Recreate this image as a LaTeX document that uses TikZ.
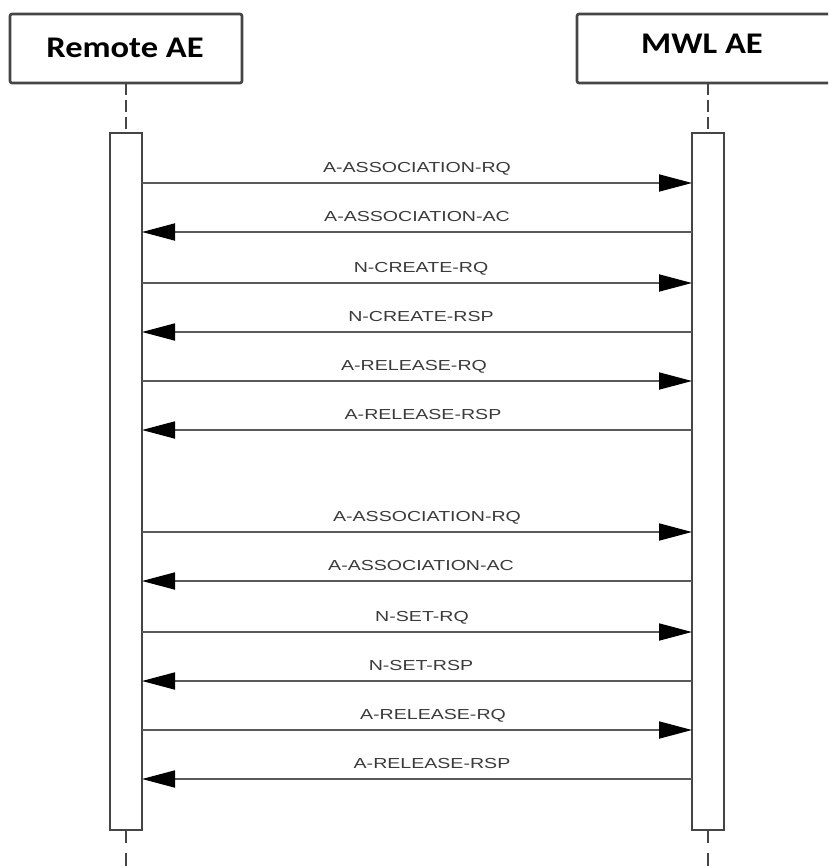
\documentclass[tikz,border=0pt]{standalone}
\usepackage{fontspec}
\usepackage{graphicx}
\setmainfont{Liberation Sans}
\newfontfamily\headfont{Carlito}
\usetikzlibrary{arrows.meta}

\definecolor{boxline}{HTML}{454545}
\definecolor{wire}{HTML}{5A5A5A}
\definecolor{msgtext}{HTML}{3A3A3A}

\newcommand{\headtext}[1]{{\headfont\bfseries\fontsize{30}{32}\selectfont\scalebox{1.15}[1]{#1}}}
\newcommand{\msgtext}[1]{{\fontsize{14.5}{16}\selectfont\scalebox{1.35}[1]{#1}}}

\begin{document}
\begin{tikzpicture}[x=1pt, y=-1pt]
\tikzset{ >=latex, inner sep=0pt, outer sep=0pt,
  actor/.style={draw=boxline, line width=2.6pt, rounded corners=2pt, fill=white},
  bar/.style={draw=boxline, line width=2.2pt, fill=white, minimum width=32pt, minimum height=697pt},
  life/.style={boxline, line width=2.2pt, dash pattern=on 12pt off 5pt},
  req/.style={wire, line width=1.8pt, -{Triangle[length=33pt, width=17pt, color=black]}},
  rsp/.style={req},
  msg/.style={midway, anchor=base, yshift=11pt, text=msgtext},
}

\useasboundingbox (0,0) rectangle (828,867);
\clip (0,0) rectangle (828,867);

%\draw [lightgray, dashed](0,0) grid[step=50] (828,867);

% actors
\node [actor, minimum width=232pt, minimum height=69pt] (remote) at (126,48.5) {};
\node [actor, minimum width=272pt, minimum height=69pt] (mwl) at (713,48.5) {};
\node [anchor=base] (remoteT) at (125,57) {\headtext{Remote AE}};
\node [anchor=base] (mwlT) at (702,54) {\headtext{MWL AE}};

% activation bars
\node [bar] (barL) at (126,481.5) {};
\node [bar] (barR) at (708,481.5) {};

\coordinate (endL) at (126,867);
\coordinate (endR) at (708,867);

\draw [life] (remote) -- (barL);
\draw [life] (mwl.south -| barR) -- (barR);
\draw [life, dash pattern=on 13pt off 10pt] (barL) -- (endL);
\draw [life, dash pattern=on 13pt off 10pt] (barR) -- (endR);

% message end points on the bars
\foreach \y [count=\i] in {183,232,283,332,381,430,532,581,632,681,730,779}
{
  \coordinate (l\i) at (142,\y);
  \coordinate (r\i) at (692,\y);
}

% first association
\draw [req] (l1) -- (r1) node [msg] {\msgtext{A-ASSOCIATION-RQ}};
\draw [rsp] (r2) -- (l2) node [msg] {\msgtext{A-ASSOCIATION-AC}};
\draw [req] (l3) -- (r3) node [msg, xshift=4pt] {\msgtext{N-CREATE-RQ}};
\draw [rsp] (r4) -- (l4) node [msg, xshift=4pt] {\msgtext{N-CREATE-RSP}};
\draw [req] (l5) -- (r5) node [msg, xshift=-3pt] {\msgtext{A-RELEASE-RQ}};
\draw [rsp] (r6) -- (l6) node [msg, xshift=6pt] {\msgtext{A-RELEASE-RSP}};

% second association
\draw [req] (l7) -- (r7) node [msg, xshift=10pt] {\msgtext{A-ASSOCIATION-RQ}};
\draw [rsp] (r8) -- (l8) node [msg, xshift=4pt] {\msgtext{A-ASSOCIATION-AC}};
\draw [req] (l9) -- (r9) node [msg, xshift=5pt] {\msgtext{N-SET-RQ}};
\draw [rsp] (r10) -- (l10) node [msg, xshift=4pt] {\msgtext{N-SET-RSP}};
\draw [req] (l11) -- (r11) node [msg, xshift=16pt] {\msgtext{A-RELEASE-RQ}};
\draw [rsp] (r12) -- (l12) node [msg, xshift=15pt] {\msgtext{A-RELEASE-RSP}};

\end{tikzpicture}
\end{document}
